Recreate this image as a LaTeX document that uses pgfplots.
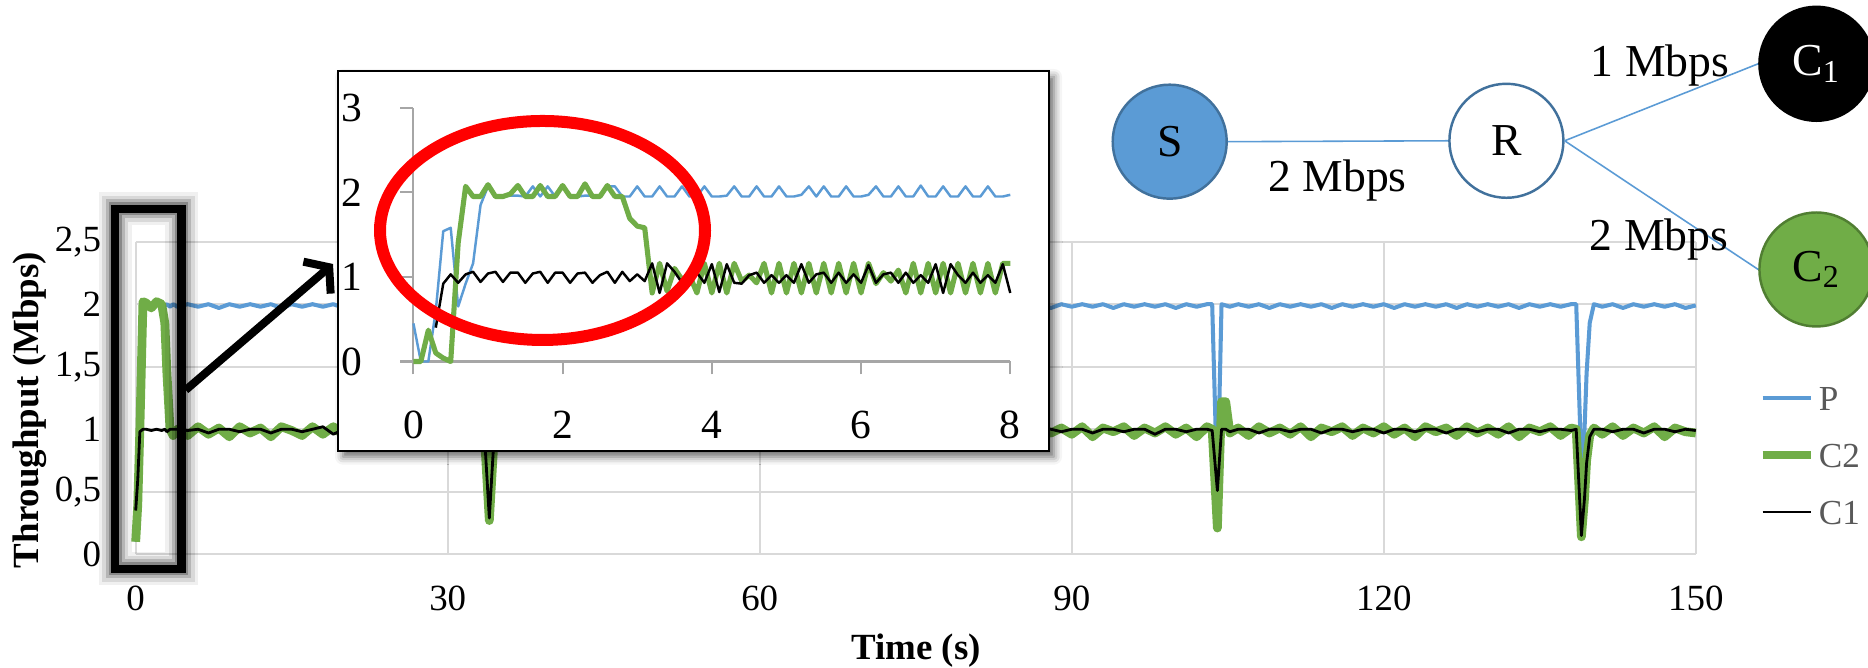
\documentclass[border=0pt]{standalone}
\usepackage{fontspec}
\setmainfont{Liberation Serif}
\usepackage{pgfplots}
\pgfplotsset{compat=1.18}
\usepackage{pgfplotstable}
\usetikzlibrary{shadows.blur, arrows.meta}
\definecolor{pblue}{HTML}{5B9BD5}
\definecolor{cgreen}{HTML}{70AD47}
\definecolor{gridgray}{HTML}{D9D9D9}
\definecolor{axgray}{HTML}{A6A6A6}
\definecolor{leggray}{HTML}{595959}
\definecolor{sborder}{HTML}{41719C}
\definecolor{gborder}{HTML}{507E32}

\pgfplotstableread{
t P C2 C1
0.0 0.10 0.10 0.35
0.2 0.40 0.40 0.60
0.4 1.00 1.00 0.98
0.7 2.00 2.02 1.00
1.0 2.00 2.01 1.00
1.5 1.98 1.97 0.99
2.0 2.00 2.02 1.00
2.5 1.98 2.00 0.99
2.8 1.99 1.85 1.00
3.0 2.00 1.45 0.98
3.3 1.98 1.00 1.00
3.6 2.00 0.95 1.00
4 1.98 1.00 1.00
5 2.00 0.95 0.99
6 1.98 1.02 1.00
7 2.00 0.96 0.97
8 1.97 1.01 1.00
9 2.00 0.94 1.00
10 1.98 1.02 0.98
11 2.00 0.97 1.00
12 1.98 1.01 1.00
13 2.00 0.94 0.97
14 1.97 1.02 1.00
15 2.00 0.99 1.00
16 1.98 0.95 0.98
17 2.00 1.02 1.00
18 1.98 0.96 1.02
19 2.00 1.02 0.96
20 1.97 0.95 1.00
21 2.00 1.01 0.99
22 1.98 0.97 1.00
23 2.00 1.02 1.00
24 1.98 0.94 0.97
25 2.00 1.01 1.00
26 1.97 0.98 1.00
27 2.00 1.02 0.98
28 1.98 0.95 1.00
29 2.00 1.01 1.00
30 1.98 0.97 0.97
31 2.00 1.02 1.00
32 1.97 0.95 1.00
33 2.00 1.01 0.99
33.5 1.99 0.99 1.00
34 0.90 0.27 0.29
34.5 1.99 0.99 1.00
35 2.00 1.02 1.00
36 1.98 0.95 0.98
37 2.00 1.01 1.00
38 1.98 0.96 1.00
39 2.00 1.02 0.97
40 1.97 0.97 1.00
41 2.00 1.01 1.00
42 1.98 0.94 0.98
43 2.00 1.02 1.00
44 1.98 0.98 1.00
45 2.00 1.01 0.97
46 1.97 0.95 1.00
47 2.00 1.02 1.01
48 1.98 0.96 0.99
49 2.00 1.01 1.00
50 1.98 0.97 0.97
51 2.00 1.02 1.00
52 1.97 0.94 1.00
53 2.00 1.01 0.98
54 1.98 0.99 1.00
55 2.00 1.02 1.00
56 1.98 0.95 0.96
57 2.00 1.01 1.00
58 1.97 0.97 1.00
59 2.00 1.02 0.98
60 1.98 0.96 1.00
61 2.00 1.01 1.00
62 1.98 0.94 0.97
63 2.00 1.02 1.00
64 1.97 0.98 1.00
65 2.00 1.01 0.98
66 1.98 0.95 1.00
67 2.00 1.02 1.00
68 1.98 0.97 0.97
69 2.00 1.01 1.00
70 1.97 0.96 1.00
71 2.00 1.02 0.98
72 1.98 0.94 1.00
73 2.00 1.01 1.00
74 1.98 0.98 0.96
75 2.00 1.02 1.00
76 1.97 0.95 1.00
77 2.00 1.01 0.98
78 1.98 0.97 1.00
79 2.00 1.02 1.00
80 1.98 0.96 0.97
81 2.00 1.01 1.00
82 1.97 0.94 1.00
83 2.00 1.02 0.98
84 1.98 0.98 1.00
85 2.00 1.01 1.00
86 1.98 0.95 0.97
87 2.00 1.02 1.00
88 1.97 0.97 1.00
89 2.00 1.01 0.98
90 1.98 0.96 1.00
91 2.00 1.02 1.00
92 1.98 0.94 0.97
93 2.00 1.01 1.00
94 1.97 0.98 1.00
95 2.00 1.02 0.98
96 1.98 0.95 1.00
97 2.00 1.01 1.00
98 1.98 0.97 0.96
99 2.00 1.02 1.00
100 1.97 0.96 1.00
101 2.00 1.01 0.98
102 1.98 0.94 1.00
103 2.00 1.02 1.00
103.5 2.00 1.00 0.99
104 0.50 0.21 0.51
104.4 2.00 1.22 1.00
104.8 1.99 1.22 1.00
105.2 1.98 0.97 0.98
106 2.00 1.01 1.00
107 1.98 0.95 1.00
108 2.00 1.02 0.97
109 1.97 0.97 1.00
110 2.00 1.01 1.00
111 1.98 0.96 0.98
112 2.00 1.02 1.00
113 1.98 0.94 1.00
114 2.00 1.01 0.97
115 1.97 0.98 1.00
116 2.00 1.02 1.00
117 1.98 0.95 0.98
118 2.00 1.01 1.00
119 1.98 0.97 1.00
120 2.00 1.02 0.97
121 1.97 0.96 1.00
122 2.00 1.01 1.00
123 1.98 0.94 0.98
124 2.00 1.02 1.00
125 1.98 0.98 1.00
126 2.00 1.01 0.97
127 1.97 0.95 1.00
128 2.00 1.02 1.00
129 1.98 0.97 0.98
130 2.00 1.01 1.00
131 1.98 0.96 1.00
132 2.00 1.02 0.97
133 1.97 0.94 1.00
134 2.00 1.01 1.00
135 1.98 0.98 0.98
136 2.00 1.02 1.00
137 1.98 0.95 1.00
138 2.00 1.01 0.99
138.5 2.00 1.00 1.00
139 0.70 0.14 0.15
139.3 1.00 0.45 0.45
139.5 1.45 0.75 0.73
139.8 1.85 0.95 0.94
140.2 2.00 1.01 1.00
141 1.98 0.96 1.00
142 2.00 1.02 0.98
143 1.97 0.95 1.00
144 2.00 1.01 1.00
145 1.98 0.97 0.97
146 2.00 1.02 1.00
147 1.98 0.94 1.00
148 2.00 1.01 0.98
149 1.97 0.98 1.00
150 1.99 0.97 0.99
}\maindata

\pgfplotstableread{
t P C2 C1
0.0 0.45 0.00 nan
0.1 0.00 0.00 nan
0.2 0.00 0.37 nan
0.3 0.60 0.10 0.40
0.4 1.54 0.04 0.92
0.5 1.58 0.00 1.03
0.6 0.65 1.40 0.93
0.7 0.92 2.07 1.03
0.8 1.16 1.95 1.06
0.9 1.85 1.95 0.94
1.0 2.07 2.09 1.04
1.1 1.95 1.95 1.06
1.2 1.95 1.95 0.94
1.3 1.96 1.98 1.05
1.4 1.96 2.08 1.05
1.5 1.95 1.95 0.93
1.6 2.07 1.95 1.04
1.7 1.95 2.08 1.06
1.8 2.07 1.95 0.93
1.9 1.95 1.95 1.05
2.0 2.07 2.08 1.05
2.1 1.95 1.95 0.93
2.2 1.95 1.95 1.04
2.3 1.96 2.10 1.05
2.4 1.96 1.95 0.93
2.5 1.95 1.95 1.02
2.6 2.07 2.08 1.06
2.7 2.07 1.95 0.93
2.8 1.95 1.95 1.06
2.9 1.95 1.69 0.95
3.0 2.07 1.60 1.03
3.1 1.95 1.58 0.95
3.2 1.95 0.81 1.16
3.3 2.07 1.16 0.81
3.4 1.95 0.83 1.16
3.5 1.95 1.10 1.06
3.6 2.07 0.97 0.93
3.7 1.95 1.02 1.02
3.8 1.95 0.81 1.05
3.9 2.07 1.16 0.93
4.0 1.95 0.81 1.15
4.1 1.95 1.16 0.82
4.2 1.96 0.81 1.15
4.3 2.07 1.16 0.93
4.4 1.95 0.95 0.92
4.5 1.95 1.02 1.02
4.6 2.07 0.93 1.05
4.7 1.95 1.16 0.93
4.8 1.95 0.81 1.02
4.9 2.07 1.16 0.93
5.0 1.95 0.81 1.02
5.1 1.95 1.16 0.93
5.2 1.97 0.81 1.15
5.3 2.07 1.16 0.93
5.4 1.95 0.81 1.03
5.5 2.07 1.16 1.05
5.6 1.95 0.81 0.93
5.7 1.95 1.16 1.05
5.8 2.07 0.81 0.93
5.9 1.95 1.16 1.03
6.0 1.95 0.81 0.93
6.1 1.97 1.16 1.14
6.2 2.07 0.92 0.93
6.3 1.95 1.05 1.03
6.4 1.95 0.95 1.05
6.5 2.07 1.08 0.93
6.6 1.95 0.81 1.05
6.7 1.95 1.16 0.93
6.8 2.08 0.81 1.02
6.9 1.95 1.16 0.93
7.0 1.95 0.81 1.15
7.1 2.07 1.16 0.81
7.2 1.95 0.81 1.15
7.3 1.95 1.16 1.02
7.4 2.07 0.81 0.93
7.5 1.95 1.16 1.05
7.6 1.95 0.81 0.93
7.7 2.07 1.16 1.02
7.8 1.95 0.81 0.93
7.9 1.95 1.16 1.15
8.0 1.97 1.16 0.81
}\insetdata

\begin{document}
\begin{tikzpicture}
\useasboundingbox (0,0) rectangle (18.68,6.68);

% ---------------- main axis ----------------
\begin{axis}[
  at={(1.357cm,1.137cm)}, anchor=south west,
  scale only axis, width=15.601cm, height=3.126cm,
  xmin=0, xmax=150, ymin=0, ymax=2.5,
  xtick={0,30,60,90,120,150}, ytick={0,0.5,1,1.5,2,2.5},
  grid=major, grid style={gridgray, line width=0.6pt},
  axis line style={draw=none}, tick style={draw=none},
  clip=false,
  tick label style={font=\fontsize{10.5}{12}\selectfont, inner sep=0pt},
  xticklabel style={anchor=center, yshift=-0.437cm},
  yticklabel style={anchor=east, xshift=-0.34cm},
  /pgf/number format/assume math mode=true,
  /pgf/number format/use comma,
  legend image code/.code={\draw[#1] (0cm,0cm) -- (0.48cm,0cm);},
  legend style={at={(axis description cs:1.0395,0.3177)}, anchor=west,
    draw=none, fill=none, inner sep=0pt, row sep=0.31cm, column sep=0.04cm,
    font=\fontsize{10}{12}\selectfont, text=leggray,
    nodes={inner sep=0pt, text height=0.26cm, text depth=0cm}},
  legend cell align=left,
]
\addplot[pblue, line width=1.15pt, line join=round] table[x=t, y=P] {\maindata};
\addlegendentry{P}
\addplot[cgreen, line width=2.5pt, line join=round] table[x=t, y=C2] {\maindata};
\addlegendentry{C2}
\addplot[black, line width=0.8pt, line join=round] table[x=t, y=C1] {\maindata};
\addlegendentry{C1}
\end{axis}

% axis titles
\node[rotate=90, font=\fontsize{10.5}{12}\selectfont\bfseries] at (0.30,2.58) {Throughput (Mbps)};
\node[anchor=base, font=\fontsize{10.5}{12}\selectfont\bfseries] at (9.16,0.08) {Time (s)};

% highlight rectangle with soft glow
\draw[black, opacity=0.06, line width=0.33cm] (1.15,0.99) rectangle (1.816,4.59);
\draw[black, opacity=0.10, line width=0.26cm] (1.15,0.99) rectangle (1.816,4.59);
\draw[black, opacity=0.16, line width=0.19cm] (1.15,0.99) rectangle (1.816,4.59);
\draw[black, opacity=0.25, line width=0.13cm] (1.15,0.99) rectangle (1.816,4.59);
\draw[black, line width=0.085cm] (1.15,0.99) rectangle (1.816,4.59);

% arrow
\draw[black, line width=0.08cm, -{Straight Barb[length=0.16cm, width=0.42cm]}] (1.857,2.78) -- (3.33,4.04);

% inset box
\fill[white, draw=black, line width=0.5pt,
  blur shadow={shadow xshift=0.05cm, shadow yshift=-0.06cm, shadow blur radius=0.08cm, shadow opacity=60}]
  (3.38,2.173) rectangle (10.49,5.97);

% ---------------- inset axis ----------------
\begin{axis}[
  at={(4.134cm,3.065cm)}, anchor=south west,
  scale only axis, width=5.969cm, height=2.538cm,
  xmin=0, xmax=8, ymin=0, ymax=3,
  xtick={0,2,4,6,8}, ytick={0,1,2,3},
  axis x line*=bottom, axis y line*=left,
  axis line style={axgray, line width=0.6pt, -},
  tick style={axgray, line width=0.6pt},
  tick align=outside, major tick length=0.13cm,
  clip=false,
  tick label style={font=\fontsize{11.8}{13}\selectfont, inner sep=0pt},
  xticklabel style={anchor=center, yshift=-0.50cm},
  yticklabel style={anchor=east, xshift=-0.376cm},
  /pgf/number format/assume math mode=true,
]
\addplot[pblue, line width=0.7pt, line join=round] table[x=t, y=P] {\insetdata};
\addplot[cgreen, line width=1.45pt, line join=round] table[x=t, y=C2] {\insetdata};
\addplot[black, line width=0.7pt, line join=round] table[x=t, y=C1] {\insetdata};
\end{axis}

% red ellipse
\draw[red, line width=0.12cm] (5.425,4.375) ellipse [x radius=1.625cm, y radius=1.095cm];

% network diagram
\node[circle, minimum size=1.14cm, inner sep=0pt, fill=pblue, draw=sborder, line width=0.7pt,
  font=\fontsize{13}{15}\selectfont] (S) at (11.697,5.263) {S};
\node[circle, minimum size=1.14cm, inner sep=0pt, fill=white, draw=sborder, line width=0.7pt,
  font=\fontsize{13}{15}\selectfont] (R) at (15.064,5.272) {R};
\node[circle, minimum size=1.14cm, inner sep=0pt, fill=black, draw=black, line width=0.7pt,
  text=white, font=\fontsize{13}{15}\selectfont] (C1) at (18.164,6.042) {C\textsubscript{1}};
\node[circle, minimum size=1.14cm, inner sep=0pt, fill=cgreen, draw=gborder, line width=0.7pt,
  font=\fontsize{13}{15}\selectfont] (C2) at (18.164,3.985) {C\textsubscript{2}};
\draw[pblue, line width=0.45pt] (S.east) -- (R.west);
\draw[pblue, line width=0.45pt] (R.east) -- (C1.west);
\draw[pblue, line width=0.45pt] (R.east) -- (C2.west);
\node[font=\fontsize{13}{15}\selectfont] at (13.375,4.87) {2 Mbps};
\node[font=\fontsize{13}{15}\selectfont] at (16.60,6.02) {1 Mbps};
\node[font=\fontsize{13}{15}\selectfont] at (16.59,4.28) {2 Mbps};
\end{tikzpicture}
\end{document}
